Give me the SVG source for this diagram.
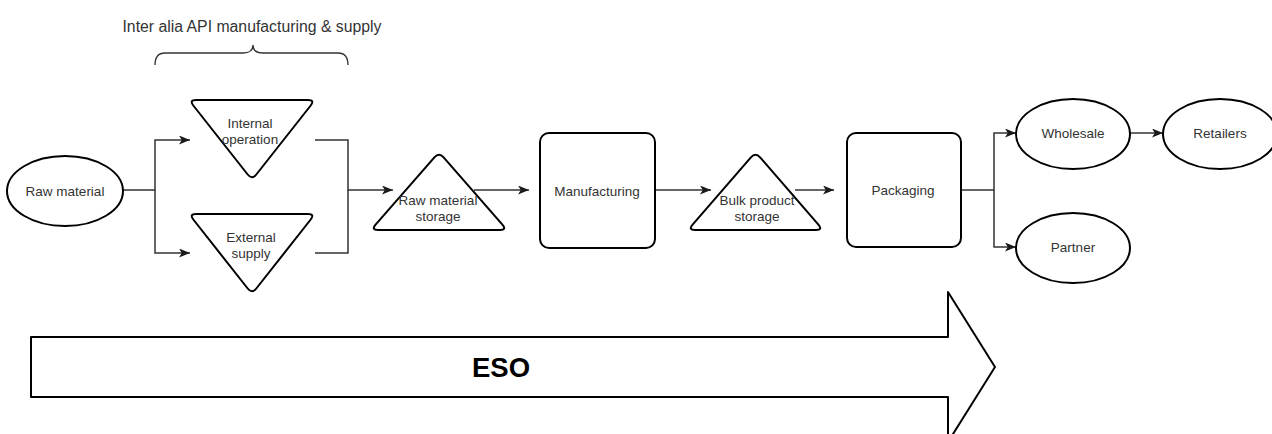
<svg xmlns="http://www.w3.org/2000/svg" width="1272" height="434" viewBox="0 0 1272 434">
  <style>
    .shape { fill: #ffffff; stroke: #000000; stroke-width: 2; stroke-linejoin: round; }
    .conn { fill: none; stroke: #333333; stroke-width: 1.5; }
    .label { font-family: "Liberation Sans", Arial, sans-serif; font-size: 13.5px; fill: #333333; text-anchor: middle; }
    .title { font-family: "Liberation Sans", Arial, sans-serif; font-size: 15.8px; fill: #333333; text-anchor: middle; }
    .big { font-family: "Liberation Sans", Arial, sans-serif; font-size: 27.5px; font-weight: bold; fill: #000000; text-anchor: middle; }
  </style>
  <defs>
    <marker id="arrow" markerUnits="userSpaceOnUse" markerWidth="11" markerHeight="9" refX="11" refY="4.5" orient="auto">
      <path d="M0,0 L11,4.5 L0,9 L2.8,4.5 Z" fill="#1a1a1a"/>
    </marker>
  </defs>
  <rect width="1272" height="434" fill="#ffffff"/>

  <!-- Big process arrow -->
  <g id="eso-arrow">
    <path class="shape" d="M31,337 H948 V292 L995,367 L948,442 V397 H31 Z"/>
    <text class="big" x="501" y="377">ESO</text>
  </g>

  <!-- Brace and heading over the supply branch -->
  <g id="api-brace">
    <text class="title" x="252" y="31.7">Inter alia API manufacturing &amp; supply</text>
    <path d="M155,65 Q155,53 165,53 L243,53 Q253,53 253,45 Q253,53 263,53 L338,53 Q348,53 348,65" fill="none" stroke="#333333" stroke-width="1.3"/>
  </g>

  <!-- Connectors -->
  <g id="connectors">
    <path class="conn" d="M123,190 H155 V140 H190" marker-end="url(#arrow)"/>
    <path class="conn" d="M155,190 V253 H190" marker-end="url(#arrow)"/>
    <path class="conn" d="M315,140 H348 V190 H393" marker-end="url(#arrow)"/>
    <path class="conn" d="M315,253 H348 V190"/>
    <path class="conn" d="M474,190 H529" marker-end="url(#arrow)"/>
    <path class="conn" d="M655,190 H711" marker-end="url(#arrow)"/>
    <path class="conn" d="M795,190 H834" marker-end="url(#arrow)"/>
    <path class="conn" d="M961,190 H994 V133 H1016" marker-end="url(#arrow)"/>
    <path class="conn" d="M994,190 V247 H1016" marker-end="url(#arrow)"/>
    <path class="conn" d="M1130,133 H1163" marker-end="url(#arrow)"/>
  </g>

  <g id="raw-material">
    <ellipse class="shape" cx="65" cy="191" rx="58" ry="35"/>
    <text class="label" x="65" y="195.5">Raw material</text>
  </g>

  <g id="internal-operation">
    <path class="shape" d="M196,100 L308,100 Q315,100 310.7,105.5 L256.3,174.5 Q252,180 247.7,174.5 L193.3,105.5 Q189,100 196,100 Z"/>
    <text class="label" x="250" y="128">Internal</text>
    <text class="label" x="250" y="144">operation</text>
  </g>

  <g id="external-supply">
    <path class="shape" d="M196,214 L308,214 Q315,214 310.7,219.5 L256.3,288.5 Q252,294 247.7,288.5 L193.3,219.5 Q189,214 196,214 Z"/>
    <text class="label" x="251" y="242">External</text>
    <text class="label" x="251" y="258">supply</text>
  </g>

  <g id="raw-material-storage">
    <path class="shape" d="M434.4,157.3 Q439,152 443.6,157.3 L502.4,224.7 Q507,230 500,230 L378,230 Q371,230 375.6,224.7 Z"/>
    <text class="label" x="438" y="204.5">Raw material</text>
    <text class="label" x="438" y="220.5">storage</text>
  </g>

  <g id="manufacturing">
    <rect class="shape" x="540" y="133" width="115" height="115" rx="9"/>
    <text class="label" x="597" y="195.5">Manufacturing</text>
  </g>

  <g id="bulk-product-storage">
    <path class="shape" d="M750.9,157.3 Q755.5,152 760.1,157.3 L818.4,224.7 Q823,230 816,230 L695,230 Q688,230 692.6,224.7 Z"/>
    <text class="label" x="757" y="204.5">Bulk product</text>
    <text class="label" x="757" y="220.5">storage</text>
  </g>

  <g id="packaging">
    <rect class="shape" x="847" y="133" width="114" height="114" rx="9"/>
    <text class="label" x="903" y="195">Packaging</text>
  </g>

  <g id="wholesale">
    <ellipse class="shape" cx="1073" cy="134" rx="57" ry="35"/>
    <text class="label" x="1073" y="138">Wholesale</text>
  </g>

  <g id="retailers">
    <ellipse class="shape" cx="1220" cy="134" rx="57" ry="35"/>
    <text class="label" x="1220" y="138">Retailers</text>
  </g>

  <g id="partner">
    <ellipse class="shape" cx="1073" cy="248" rx="57" ry="35"/>
    <text class="label" x="1073" y="251.5">Partner</text>
  </g>
</svg>
